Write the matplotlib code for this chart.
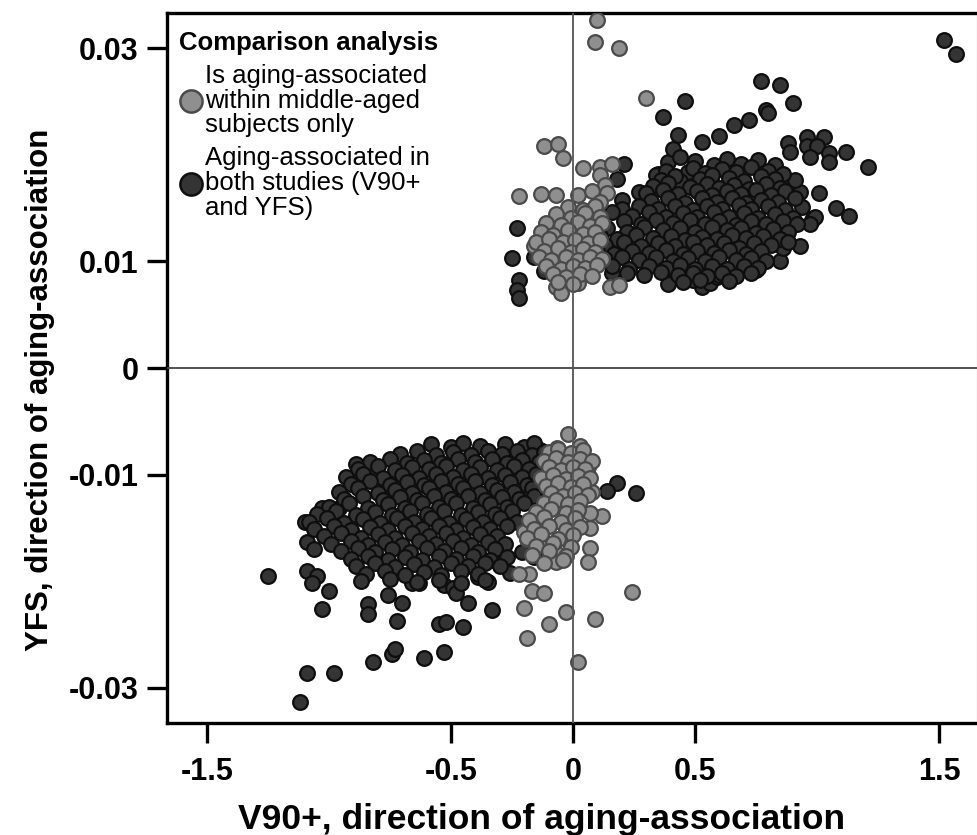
import matplotlib
matplotlib.use("Agg")
import matplotlib.pyplot as plt
from matplotlib.lines import Line2D
import numpy as np

plt.rcParams['font.family'] = ['Liberation Sans', 'DejaVu Sans']

# points: (V90+ value, YFS value in units of 1e-3)
both_upper = [
    (1.52, 30.8), (1.57, 29.5), (0.77, 26.9), (0.85, 26.5), (0.90, 24.9), (0.46, 25.0),
    (0.37, 23.5), (0.66, 22.8), (0.72, 23.3), (0.79, 24.2), (0.80, 23.9), (0.43, 21.9),
    (0.53, 21.2), (0.60, 21.8), (0.96, 21.7), (1.03, 21.7), (0.88, 21.1), (0.89, 20.3),
    (0.96, 20.8), (1.00, 20.8), (0.97, 19.8), (1.05, 20.2), (1.05, 19.3), (1.12, 20.3),
    (1.21, 18.9), (1.01, 16.4), (1.08, 15.0), (1.13, 14.3), (0.98, 13.9), (0.99, 14.2),
    (0.97, 13.5), (0.93, 11.4), (0.85, 10.0), (0.75, 9.2), (0.86, 11.3), (0.84, 12.3),
    (0.94, 15.1), (0.90, 16.4), (0.93, 16.5), (0.88, 17.3), (0.91, 17.6), (0.53, 7.6),
    (0.56, 8.0), (0.59, 8.5), (0.60, 8.7), (0.49, 8.3), (0.39, 8.5), (0.39, 7.9),
    (-0.23, 13.1), (-0.25, 10.3), (-0.16, 10.4), (-0.10, 10.4), (-0.12, 9.1), (-0.22, 8.3),
    (-0.23, 7.3), (-0.22, 6.6), (0.21, 19.1), (0.18, 17.7), (0.27, 16.5), (0.35, 18.2),
    (0.39, 19.3), (0.41, 20.5), (0.44, 19.8), (0.45, 17.9), (0.47, 18.4), (0.44, 17.5),
    (0.20, 15.8), (0.20, 14.9), (0.16, 14.6), (0.12, 11.5), (0.11, 10.6), (0.15, 9.9),
    (0.16, 8.9), (0.34, 18.1),
    (0.50, 19.4), (0.58, 19.0), (0.63, 19.6), (0.69, 19.1), (0.76, 19.5), (0.83, 19.0),
    (0.38, 18.5), (0.49, 18.8), (0.54, 18.3), (0.61, 18.7), (0.67, 18.4), (0.73, 18.9),
    (0.80, 18.5), (0.86, 18.2),
    (0.36, 17.6), (0.42, 18.0), (0.52, 17.7), (0.57, 18.1), (0.64, 17.8), (0.70, 17.5),
    (0.77, 18.0), (0.83, 17.7),
    (0.33, 17.1), (0.39, 17.4), (0.48, 17.0), (0.55, 17.3), (0.60, 16.9), (0.66, 17.2),
    (0.72, 16.8), (0.79, 17.3), (0.85, 16.9),
    (0.30, 16.4), (0.37, 16.7), (0.43, 16.3), (0.51, 16.6), (0.57, 16.2), (0.63, 16.6),
    (0.69, 16.3), (0.75, 16.7), (0.81, 16.2), (0.87, 16.6),
    (0.32, 15.7), (0.39, 15.9), (0.46, 15.5), (0.53, 15.9), (0.59, 15.6), (0.65, 15.9),
    (0.71, 15.5), (0.77, 15.8), (0.84, 15.6), (0.91, 15.9),
    (0.27, 15.2), (0.35, 14.9), (0.42, 15.2), (0.49, 14.8), (0.55, 15.2), (0.61, 14.9),
    (0.68, 15.3), (0.73, 14.9), (0.80, 15.2), (0.87, 14.8),
    (0.24, 14.3), (0.31, 14.6), (0.38, 14.2), (0.45, 14.5), (0.51, 14.2), (0.58, 14.6),
    (0.64, 14.2), (0.70, 14.5), (0.76, 14.1), (0.83, 14.4), (0.90, 14.1),
    (0.21, 13.8), (0.28, 13.5), (0.34, 13.9), (0.41, 13.6), (0.48, 13.9), (0.54, 13.5),
    (0.60, 13.8), (0.67, 13.4), (0.73, 13.8), (0.79, 13.5), (0.86, 13.8), (0.92, 13.5),
    (0.14, 13.1), (0.22, 12.8), (0.29, 13.2), (0.37, 12.9), (0.44, 13.1), (0.50, 12.8),
    (0.57, 13.2), (0.63, 12.9), (0.69, 13.1), (0.75, 12.7), (0.82, 13.0), (0.88, 12.8),
    (0.11, 12.4), (0.18, 12.1), (0.26, 12.5), (0.33, 12.2), (0.40, 12.4), (0.46, 12.0),
    (0.53, 12.3), (0.59, 12.1), (0.65, 12.5), (0.71, 12.2), (0.78, 12.4), (0.85, 12.1),
    (0.13, 11.5), (0.21, 11.8), (0.28, 11.4), (0.35, 11.7), (0.42, 11.4), (0.49, 11.8),
    (0.55, 11.5), (0.62, 11.7), (0.68, 11.3), (0.74, 11.7), (0.81, 11.5), (0.88, 11.8),
    (0.10, 11.0), (0.17, 10.7), (0.24, 11.0), (0.31, 10.8), (0.38, 11.1), (0.45, 10.7),
    (0.51, 11.0), (0.58, 10.8), (0.64, 11.1), (0.71, 10.7), (0.77, 11.0),
    (0.13, 10.2), (0.20, 10.4), (0.27, 10.1), (0.34, 10.4), (0.41, 10.0), (0.47, 10.3),
    (0.54, 10.0), (0.60, 10.4), (0.67, 10.1), (0.73, 10.3), (0.79, 10.0),
    (0.16, 9.6), (0.23, 9.3), (0.31, 9.6), (0.38, 9.4), (0.44, 9.7), (0.50, 9.3),
    (0.57, 9.6), (0.63, 9.3), (0.70, 9.6), (0.76, 9.4),
    (0.22, 8.9), (0.29, 8.7), (0.36, 9.0), (0.43, 8.7), (0.49, 8.9), (0.55, 8.6),
    (0.61, 8.9), (0.67, 8.6), (0.73, 8.9),
    (0.45, 8.1), (0.52, 8.3), (0.64, 8.2),
]

both_lower = [
    (-1.25, -19.5), (-1.12, -31.3), (-1.09, -28.6), (-0.98, -28.6), (-0.82, -27.6),
    (-0.74, -26.8), (-0.73, -26.4), (-0.61, -27.2), (-0.53, -26.6), (-0.55, -24.0),
    (-0.52, -23.8), (-0.45, -24.3), (-0.72, -23.7), (-1.03, -22.6), (-0.84, -22.1),
    (-0.84, -23.1), (-1.00, -20.9), (-1.10, -14.4), (-1.03, -13.1), (-0.96, -13.1),
    (-0.89, -9.0), (-0.82, -10.0), (-1.09, -19.0), (-1.05, -19.5), (-1.07, -20.2),
    (-1.09, -16.3), (-1.06, -17.0), (-0.43, -22.0), (-0.33, -22.7), (-0.70, -22.0),
    (-0.76, -21.3), (0.18, -10.8), (0.14, -11.5), (0.26, -11.7),
    (-0.66, -20.2), (-0.63, -20.2), (-0.53, -20.4), (-0.49, -20.6), (-0.48, -21.1),
    (-0.39, -19.6), (-0.35, -20.1), (-0.29, -18.3), (-0.26, -19.2), (-0.21, -17.3),
    (-0.16, -17.7), (-0.135, -7.7),
    (-0.58, -7.1), (-0.50, -7.4), (-0.45, -7.0), (-0.38, -7.3), (-0.28, -7.1),
    (-0.20, -7.4), (-0.16, -7.0),
    (-0.71, -8.1), (-0.64, -7.8), (-0.56, -8.2), (-0.49, -7.9), (-0.42, -8.2),
    (-0.35, -7.8), (-0.29, -8.1), (-0.23, -7.8), (-0.17, -8.2), (-0.12, -7.9),
    (-0.83, -8.8), (-0.75, -8.5), (-0.68, -8.9), (-0.61, -8.6), (-0.54, -8.9),
    (-0.47, -8.5), (-0.40, -8.8), (-0.33, -8.5), (-0.27, -8.9), (-0.21, -8.6), (-0.14, -8.8),
    (-0.88, -9.5), (-0.80, -9.2), (-0.73, -9.6), (-0.66, -9.3), (-0.59, -9.5),
    (-0.52, -9.2), (-0.45, -9.6), (-0.38, -9.3), (-0.31, -9.6), (-0.24, -9.2),
    (-0.18, -9.5), (-0.11, -9.3),
    (-0.93, -10.2), (-0.86, -9.9), (-0.78, -10.3), (-0.70, -10.0), (-0.63, -10.3),
    (-0.56, -9.9), (-0.49, -10.2), (-0.42, -9.9), (-0.35, -10.3), (-0.28, -10.0),
    (-0.21, -10.2), (-0.15, -9.9), (-0.09, -10.2),
    (-0.91, -10.9), (-0.83, -10.6), (-0.75, -11.0), (-0.68, -10.7), (-0.61, -11.0),
    (-0.54, -10.6), (-0.47, -10.9), (-0.40, -10.6), (-0.33, -11.0), (-0.26, -10.7),
    (-0.19, -11.0), (-0.13, -10.7),
    (-0.96, -11.6), (-0.88, -11.3), (-0.80, -11.7), (-0.73, -11.4), (-0.66, -11.7),
    (-0.59, -11.3), (-0.52, -11.6), (-0.45, -11.3), (-0.38, -11.7), (-0.31, -11.4),
    (-0.24, -11.6), (-0.17, -11.3), (-0.11, -11.6),
    (-0.94, -12.3), (-0.86, -12.0), (-0.78, -12.4), (-0.71, -12.1), (-0.64, -12.4),
    (-0.57, -12.0), (-0.50, -12.3), (-0.43, -12.0), (-0.36, -12.4), (-0.29, -12.1),
    (-0.22, -12.3), (-0.16, -12.0),
    (-1.00, -13.0), (-0.92, -12.7), (-0.84, -13.1), (-0.76, -12.8), (-0.69, -13.1),
    (-0.62, -12.7), (-0.55, -13.0), (-0.48, -12.7), (-0.41, -13.1), (-0.34, -12.8),
    (-0.27, -13.0), (-0.20, -12.7),
    (-1.05, -13.7), (-0.97, -13.4), (-0.89, -13.8), (-0.81, -13.5), (-0.74, -13.8),
    (-0.67, -13.4), (-0.60, -13.7), (-0.53, -13.4), (-0.46, -13.8), (-0.39, -13.5),
    (-0.32, -13.7), (-0.25, -13.4),
    (-1.08, -14.4), (-1.01, -14.1), (-0.94, -14.5), (-0.86, -14.2), (-0.79, -14.5),
    (-0.72, -14.1), (-0.65, -14.4), (-0.58, -14.1), (-0.51, -14.5), (-0.44, -14.2),
    (-0.37, -14.4), (-0.30, -14.1), (-0.23, -14.4),
    (-1.06, -15.1), (-0.98, -14.8), (-0.91, -15.2), (-0.83, -14.9), (-0.76, -15.2),
    (-0.69, -14.8), (-0.62, -15.1), (-0.55, -14.8), (-0.48, -15.2), (-0.41, -14.9),
    (-0.34, -15.1), (-0.27, -14.8),
    (-1.02, -15.8), (-0.95, -15.5), (-0.87, -15.9), (-0.80, -15.6), (-0.73, -15.9),
    (-0.66, -15.5), (-0.59, -15.8), (-0.52, -15.5), (-0.45, -15.9), (-0.38, -15.6),
    (-0.31, -15.8),
    (-0.99, -16.5), (-0.91, -16.2), (-0.84, -16.6), (-0.77, -16.3), (-0.70, -16.6),
    (-0.63, -16.2), (-0.56, -16.5), (-0.49, -16.2), (-0.42, -16.6), (-0.35, -16.3),
    (-0.28, -16.5),
    (-0.95, -17.2), (-0.88, -16.9), (-0.81, -17.3), (-0.74, -17.0), (-0.67, -17.3),
    (-0.60, -16.9), (-0.53, -17.2), (-0.46, -16.9), (-0.39, -17.3), (-0.32, -17.0),
    (-0.91, -17.9), (-0.84, -17.6), (-0.76, -18.0), (-0.69, -17.7), (-0.62, -18.0),
    (-0.55, -17.6), (-0.48, -17.9), (-0.41, -17.6), (-0.34, -18.0), (-0.27, -17.7),
    (-0.89, -18.6), (-0.81, -18.3), (-0.73, -18.7), (-0.65, -18.4), (-0.57, -18.7),
    (-0.50, -18.3), (-0.43, -18.6), (-0.36, -18.3), (-0.30, -18.6),
    (-0.85, -19.3), (-0.77, -19.0), (-0.69, -19.4), (-0.61, -19.1), (-0.54, -19.4),
    (-0.46, -19.0), (-0.39, -19.3),
    (-0.87, -20.0), (-0.75, -19.8), (-0.64, -20.1), (-0.55, -19.9), (-0.46, -20.2),
    (-0.36, -19.9),
]

middle_upper = [
    (0.10, 32.6), (0.09, 30.6), (0.19, 30.0), (0.30, 25.3), (-0.12, 20.8), (-0.06, 21.0),
    (-0.04, 19.7), (-0.22, 16.1), (-0.13, 16.3), (-0.07, 16.2), (-0.16, 11.4), (0.15, 7.6),
    (0.19, 7.8), (0.04, 18.8), (0.11, 18.9), (0.16, 19.1), (0.11, 18.1), (0.13, 17.2),
    (0.14, 16.4), (0.02, 16.2), (0.08, 16.6), (0.11, 15.6), (-0.09, 13.2), (-0.04, 13.9),
    (0.00, 13.0), (-0.07, 7.6), (-0.05, 7.0), (0.02, 8.0),
    (-0.02, 15.1), (0.04, 14.8), (0.09, 15.2),
    (-0.07, 14.4), (-0.01, 14.1), (0.05, 14.5), (0.11, 14.2),
    (-0.11, 13.6), (-0.05, 13.4), (0.02, 13.7), (0.07, 13.3), (0.12, 13.6),
    (-0.13, 12.8), (-0.08, 12.5), (-0.02, 12.9), (0.04, 12.6), (0.09, 12.8),
    (-0.15, 11.8), (-0.10, 12.1), (-0.04, 11.8), (0.01, 12.0), (0.06, 11.7), (0.11, 12.0),
    (-0.12, 11.0), (-0.06, 11.3), (-0.01, 10.9), (0.04, 11.2), (0.09, 10.9),
    (-0.14, 10.4), (-0.09, 10.1), (-0.03, 10.4), (0.02, 10.1), (0.07, 10.4), (0.12, 10.2),
    (-0.11, 9.6), (-0.05, 9.3), (0.00, 9.6), (0.05, 9.4), (0.10, 9.7),
    (-0.08, 8.8), (-0.03, 8.5), (0.03, 8.8), (0.08, 8.6),
    (-0.06, 8.1), (0.00, 7.9),
]

middle_lower = [
    (-0.02, -6.2), (0.03, -7.3), (0.24, -21.0), (0.09, -23.5), (0.02, -27.6), (-0.19, -25.3),
    (-0.10, -24.0), (-0.03, -22.9), (-0.20, -22.5), (-0.17, -20.9), (-0.12, -21.1),
    (-0.18, -19.3), (-0.22, -19.3), (0.12, -13.9), (0.07, -13.6), (0.07, -15.0),
    (0.07, -16.9), (0.06, -18.2), (-0.066, -7.5), (-0.08, -8.4), (0.06, -9.3), (0.06, -10.0),
    (0.08, -11.6), (0.05, -11.6), (-0.20, -15.4), (-0.14, -15.5), (-0.19, -16.0),
    (-0.11, -16.4), (-0.07, -17.4), (-0.07, -18.2),
    (-0.10, -7.9), (-0.06, -7.6), (-0.01, -8.0), (0.04, -7.7),
    (-0.12, -8.7), (-0.07, -8.4), (-0.02, -8.8), (0.03, -8.5), (0.08, -8.7),
    (-0.10, -9.3), (-0.05, -9.6), (0.00, -9.3), (0.05, -9.5),
    (-0.13, -10.3), (-0.08, -10.0), (-0.03, -10.4), (0.02, -10.1), (0.07, -10.3),
    (-0.11, -11.1), (-0.06, -10.8), (-0.01, -11.2), (0.04, -10.9),
    (-0.09, -11.7), (-0.04, -12.0), (0.01, -11.7), (0.06, -11.9),
    (-0.12, -12.7), (-0.07, -12.4), (-0.02, -12.8), (0.03, -12.5),
    (-0.15, -13.5), (-0.09, -13.2), (-0.03, -13.6), (0.02, -13.3),
    (-0.18, -14.3), (-0.12, -14.0), (-0.05, -14.4), (0.01, -14.1),
    (-0.16, -15.1), (-0.10, -14.8), (-0.03, -15.2), (0.03, -14.9),
    (-0.19, -15.9), (-0.13, -15.6), (-0.06, -16.0), (0.00, -15.7),
    (-0.15, -16.7), (-0.08, -16.4), (-0.01, -16.8),
    (-0.17, -17.5), (-0.10, -17.2), (-0.03, -17.6),
    (-0.12, -18.3), (-0.04, -18.0),
]

legend_title = "Comparison analysis"
labels = ["Is aging-associated\nwithin middle-aged\nsubjects only",
          "Aging-associated in\nboth studies (V90+\nand YFS)"]
xticks = [-1.5, -0.5, 0, 0.5, 1.5]
xticklabels = ["-1.5", "-0.5", "0", "0.5", "1.5"]
yticks = [0.03, 0.01, 0, -0.01, -0.03]
yticklabels = ["0.03", "0.01", "0", "-0.01", "-0.03"]

both = np.array(both_upper + both_lower)
middle = np.array(middle_upper + middle_lower)

black_fc, black_ec = '#343434', '#0e0e0e'
gray_fc, gray_ec = '#8f8f8f', '#4a4a4a'

fig = plt.figure(figsize=(9.78, 8.35), dpi=100)
ax = fig.add_axes([167/978, 1-723/835, 810/978, 710/835])

ax.scatter(both[:, 0], both[:, 1]/1000, s=112, c=black_fc, edgecolors=black_ec,
           linewidths=1.6, zorder=2)
ax.scatter(middle[:, 0], middle[:, 1]/1000, s=112, c=gray_fc, edgecolors=gray_ec,
           linewidths=1.6, zorder=3)

ax.axhline(0, color='#444444', lw=1.3, zorder=4)
ax.axvline(0, color='#555555', lw=1.3, zorder=4)

ax.set_xlim(-1.664, 1.656)
ax.set_ylim(-0.0333, 0.0333)

for side in ['left', 'bottom', 'top']:
    ax.spines[side].set_linewidth(2.4)
    ax.spines[side].set_color('black')
ax.spines['right'].set_linewidth(0.8)
ax.spines['right'].set_color('#999999')

ax.set_xticks(xticks, labels=xticklabels, fontweight='bold', fontsize=22)
ax.set_yticks(yticks, labels=yticklabels, fontweight='bold', fontsize=22)
ax.tick_params(axis='both', direction='out', length=14.4, width=2.4)
ax.tick_params(axis='x', pad=10)
ax.tick_params(axis='y', pad=6)

ax.set_xlabel("V90+, direction of aging-association", fontweight='bold', fontsize=25.5)
ax.xaxis.set_label_coords(0.463, -0.112)
ax.set_ylabel("YFS, direction of aging-association", fontweight='bold', fontsize=22.5)
ax.yaxis.set_label_coords(-0.138, 0.469)

handles = [
    Line2D([], [], ls='none', marker='o', ms=16, mfc=gray_fc, mec=gray_ec, mew=1.8),
    Line2D([], [], ls='none', marker='o', ms=16, mfc=black_fc, mec=black_ec, mew=1.8),
]
leg = ax.legend(handles, labels, title=legend_title, loc='upper left',
                bbox_to_anchor=(0.015, 0.975), frameon=False, fontsize=18.5,
                title_fontproperties={'weight': 'bold', 'size': 18.5},
                alignment='left', handlelength=0.95, handletextpad=0.05,
                labelspacing=0.35, borderpad=0.0, borderaxespad=0.0)
for t in leg.get_texts():
    t.set_linespacing(1.04)

fig.savefig('out.png', dpi=100)
